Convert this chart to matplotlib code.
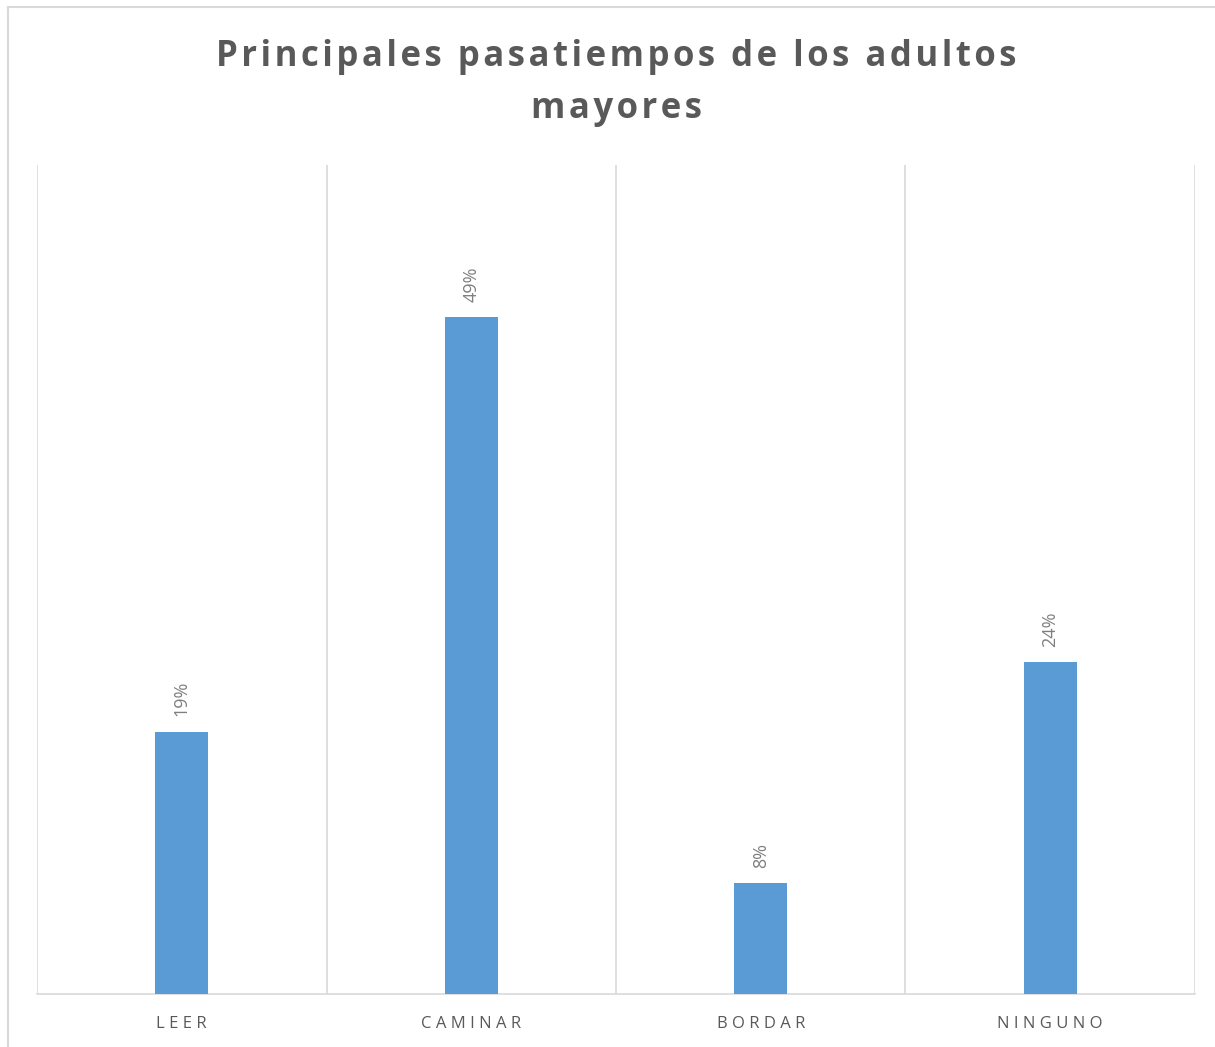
import matplotlib.pyplot as plt
from matplotlib.lines import Line2D

categories = ["LEER", "CAMINAR", "BORDAR", "NINGUNO"]
values = [19, 49, 8, 24]
title_lines = ["Principales pasatiempos de los adultos", "mayores"]

bar_color = "#5b9bd5"
grid_color = "#d9d9d9"
text_color = "#595959"
fonts = ["Open Sans", "DejaVu Sans"]


def spaced(s, sep="\u2009"):
    return sep.join(s)


fig = plt.figure(figsize=(12.15, 10.47), dpi=100)
ax = fig.add_axes([0.0305, 0.0506, 0.953, 0.7918])

x = list(range(len(categories)))
bars = ax.bar(x, values, width=0.183, color=bar_color, zorder=3)

ax.set_xlim(-0.5, len(categories) - 0.5)
ax.set_ylim(0, 60)

# category dividers
for b in range(len(categories) + 1):
    ax.axvline(b - 0.5, color=grid_color, lw=1.2, zorder=1)

for s in ["top", "left", "right"]:
    ax.spines[s].set_visible(False)
ax.spines["bottom"].set_color(grid_color)
ax.spines["bottom"].set_linewidth(1.2)
ax.set_yticks([])
ax.set_xticks(x)
ax.set_xticklabels([spaced(c, " ") for c in categories], color=text_color,
                   fontsize=12, fontfamily=fonts)
ax.tick_params(axis="x", length=0, pad=16)

for rect, v in zip(bars, values):
    ax.annotate(f"{v}%", (rect.get_x() + rect.get_width() / 2, v),
                xytext=(0, 11), textcoords="offset points",
                ha="center", va="bottom", rotation=90,
                fontsize=13, color="#7f7f7f", fontfamily=fonts)

# title with wide letter spacing
title = "\n".join(spaced(line, "\u200a") for line in title_lines)
fig.text(0.507, 0.963, title, ha="center", va="top", fontsize=25,
         fontweight="bold", color=text_color, linespacing=1.6,
         fontfamily=fonts)

# outer chart frame
fig.add_artist(Line2D([8 / 1215, 1.0], [1 - 7 / 1047, 1 - 7 / 1047],
                      transform=fig.transFigure, color=grid_color, lw=1.5))
fig.add_artist(Line2D([8 / 1215, 8 / 1215], [0.0, 1 - 7 / 1047],
                      transform=fig.transFigure, color=grid_color, lw=1.5))

fig.savefig("out.png", dpi=100, facecolor="white")
